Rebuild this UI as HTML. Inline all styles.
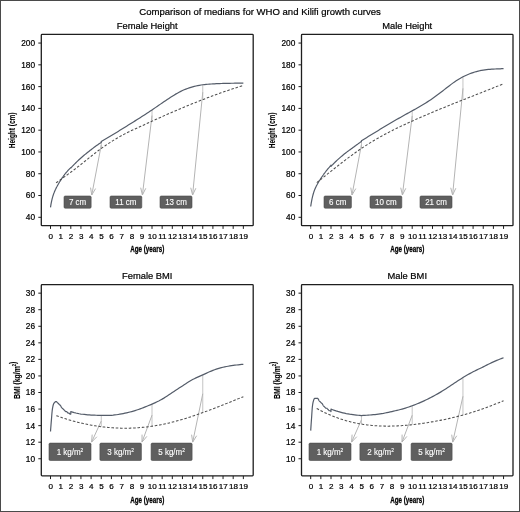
<!DOCTYPE html>
<html><head><meta charset="utf-8"><style>
html,body{margin:0;padding:0;background:#fff;}
#c{position:relative;width:520px;height:512px;overflow:hidden;background:#fff;box-sizing:border-box;border:1px solid #4a4a4a;}
svg{position:absolute;left:-1px;top:-1px;will-change:transform;}
text{font-family:"Liberation Sans",sans-serif;stroke:currentColor;stroke-width:0.22px;}
text.w{stroke:#fff;stroke-width:0.12px;}
text.b{stroke-width:0.3px;}
text.b2{stroke-width:0.12px;}
</style></head><body><div id="c">
<svg width="520" height="512" viewBox="0 0 520 512">
<text transform="translate(260.00,15.30) scale(0.966,1)" font-size="9.9" text-anchor="middle" fill="#000" color="#000" >Comparison of medians for WHO and Kilifi growth curves</text>
<text transform="translate(147.25,28.80) scale(0.965,1)" font-size="9.7" text-anchor="middle" fill="#000" color="#000" >Female Height</text>
<line x1="38.30" y1="217.30" x2="41.30" y2="217.30" stroke="#1e1e1e" stroke-width="1"/>
<text x="35.10" y="220.25" font-size="8.3" text-anchor="end" fill="#000" color="#000" >40</text>
<line x1="38.30" y1="195.52" x2="41.30" y2="195.52" stroke="#1e1e1e" stroke-width="1"/>
<text x="35.10" y="198.47" font-size="8.3" text-anchor="end" fill="#000" color="#000" >60</text>
<line x1="38.30" y1="173.74" x2="41.30" y2="173.74" stroke="#1e1e1e" stroke-width="1"/>
<text x="35.10" y="176.69" font-size="8.3" text-anchor="end" fill="#000" color="#000" >80</text>
<line x1="38.30" y1="151.96" x2="41.30" y2="151.96" stroke="#1e1e1e" stroke-width="1"/>
<text x="35.10" y="154.91" font-size="8.3" text-anchor="end" fill="#000" color="#000" >100</text>
<line x1="38.30" y1="130.18" x2="41.30" y2="130.18" stroke="#1e1e1e" stroke-width="1"/>
<text x="35.10" y="133.13" font-size="8.3" text-anchor="end" fill="#000" color="#000" >120</text>
<line x1="38.30" y1="108.40" x2="41.30" y2="108.40" stroke="#1e1e1e" stroke-width="1"/>
<text x="35.10" y="111.35" font-size="8.3" text-anchor="end" fill="#000" color="#000" >140</text>
<line x1="38.30" y1="86.62" x2="41.30" y2="86.62" stroke="#1e1e1e" stroke-width="1"/>
<text x="35.10" y="89.57" font-size="8.3" text-anchor="end" fill="#000" color="#000" >160</text>
<line x1="38.30" y1="64.84" x2="41.30" y2="64.84" stroke="#1e1e1e" stroke-width="1"/>
<text x="35.10" y="67.79" font-size="8.3" text-anchor="end" fill="#000" color="#000" >180</text>
<line x1="38.30" y1="43.06" x2="41.30" y2="43.06" stroke="#1e1e1e" stroke-width="1"/>
<text x="35.10" y="46.01" font-size="8.3" text-anchor="end" fill="#000" color="#000" >200</text>
<line x1="50.50" y1="225.70" x2="50.50" y2="228.90" stroke="#1e1e1e" stroke-width="1"/>
<text x="50.70" y="239.20" font-size="8.1" text-anchor="middle" fill="#000" color="#000" >0</text>
<line x1="60.65" y1="225.70" x2="60.65" y2="228.90" stroke="#1e1e1e" stroke-width="1"/>
<text x="60.85" y="239.20" font-size="8.1" text-anchor="middle" fill="#000" color="#000" >1</text>
<line x1="70.80" y1="225.70" x2="70.80" y2="228.90" stroke="#1e1e1e" stroke-width="1"/>
<text x="71.00" y="239.20" font-size="8.1" text-anchor="middle" fill="#000" color="#000" >2</text>
<line x1="80.95" y1="225.70" x2="80.95" y2="228.90" stroke="#1e1e1e" stroke-width="1"/>
<text x="81.15" y="239.20" font-size="8.1" text-anchor="middle" fill="#000" color="#000" >3</text>
<line x1="91.10" y1="225.70" x2="91.10" y2="228.90" stroke="#1e1e1e" stroke-width="1"/>
<text x="91.30" y="239.20" font-size="8.1" text-anchor="middle" fill="#000" color="#000" >4</text>
<line x1="101.25" y1="225.70" x2="101.25" y2="228.90" stroke="#1e1e1e" stroke-width="1"/>
<text x="101.45" y="239.20" font-size="8.1" text-anchor="middle" fill="#000" color="#000" >5</text>
<line x1="111.40" y1="225.70" x2="111.40" y2="228.90" stroke="#1e1e1e" stroke-width="1"/>
<text x="111.60" y="239.20" font-size="8.1" text-anchor="middle" fill="#000" color="#000" >6</text>
<line x1="121.55" y1="225.70" x2="121.55" y2="228.90" stroke="#1e1e1e" stroke-width="1"/>
<text x="121.75" y="239.20" font-size="8.1" text-anchor="middle" fill="#000" color="#000" >7</text>
<line x1="131.70" y1="225.70" x2="131.70" y2="228.90" stroke="#1e1e1e" stroke-width="1"/>
<text x="131.90" y="239.20" font-size="8.1" text-anchor="middle" fill="#000" color="#000" >8</text>
<line x1="141.85" y1="225.70" x2="141.85" y2="228.90" stroke="#1e1e1e" stroke-width="1"/>
<text x="142.05" y="239.20" font-size="8.1" text-anchor="middle" fill="#000" color="#000" >9</text>
<line x1="152.00" y1="225.70" x2="152.00" y2="228.90" stroke="#1e1e1e" stroke-width="1"/>
<text x="152.20" y="239.20" font-size="8.1" text-anchor="middle" fill="#000" color="#000" >10</text>
<line x1="162.15" y1="225.70" x2="162.15" y2="228.90" stroke="#1e1e1e" stroke-width="1"/>
<text x="162.35" y="239.20" font-size="8.1" text-anchor="middle" fill="#000" color="#000" >11</text>
<line x1="172.30" y1="225.70" x2="172.30" y2="228.90" stroke="#1e1e1e" stroke-width="1"/>
<text x="172.50" y="239.20" font-size="8.1" text-anchor="middle" fill="#000" color="#000" >12</text>
<line x1="182.45" y1="225.70" x2="182.45" y2="228.90" stroke="#1e1e1e" stroke-width="1"/>
<text x="182.65" y="239.20" font-size="8.1" text-anchor="middle" fill="#000" color="#000" >13</text>
<line x1="192.60" y1="225.70" x2="192.60" y2="228.90" stroke="#1e1e1e" stroke-width="1"/>
<text x="192.80" y="239.20" font-size="8.1" text-anchor="middle" fill="#000" color="#000" >14</text>
<line x1="202.75" y1="225.70" x2="202.75" y2="228.90" stroke="#1e1e1e" stroke-width="1"/>
<text x="202.95" y="239.20" font-size="8.1" text-anchor="middle" fill="#000" color="#000" >15</text>
<line x1="212.90" y1="225.70" x2="212.90" y2="228.90" stroke="#1e1e1e" stroke-width="1"/>
<text x="213.10" y="239.20" font-size="8.1" text-anchor="middle" fill="#000" color="#000" >16</text>
<line x1="223.05" y1="225.70" x2="223.05" y2="228.90" stroke="#1e1e1e" stroke-width="1"/>
<text x="223.25" y="239.20" font-size="8.1" text-anchor="middle" fill="#000" color="#000" >17</text>
<line x1="233.20" y1="225.70" x2="233.20" y2="228.90" stroke="#1e1e1e" stroke-width="1"/>
<text x="233.40" y="239.20" font-size="8.1" text-anchor="middle" fill="#000" color="#000" >18</text>
<line x1="243.35" y1="225.70" x2="243.35" y2="228.90" stroke="#1e1e1e" stroke-width="1"/>
<text x="243.55" y="239.20" font-size="8.1" text-anchor="middle" fill="#000" color="#000" >19</text>
<text transform="translate(147.25,252.30) scale(0.68,1)" font-size="9.2" font-weight="bold" text-anchor="middle" fill="#000" color="#000" class="b">Age (years)</text>
<text transform="translate(14.50,130.35) rotate(-90) scale(0.7,1)" font-size="9.3" font-weight="bold" text-anchor="middle" fill="#000" color="#000" class="b2">Height (cm)</text>
<line x1="101.25" y1="141.51" x2="101.25" y2="148.48" stroke="#c4c4c4" stroke-width="1"/>
<line x1="101.25" y1="144.99" x2="91.75" y2="195.00" stroke="#b4b4b4" stroke-width="1"/>
<path d="M90.55,187.60 L91.75,195.00 L95.59,188.55" fill="none" stroke="#b4b4b4" stroke-width="1"/>
<rect x="64.00" y="196.00" width="27.15" height="12.20" rx="1.2" fill="#5f5f5f" stroke="#4c4c4c" stroke-width="0.6"/>
<text class="w" transform="translate(77.58,205.20) scale(0.94,1)" font-size="8.5" text-anchor="middle" fill="#fff" color="#fff" >7 cm</text>
<line x1="152.00" y1="109.92" x2="152.00" y2="121.18" stroke="#c4c4c4" stroke-width="1"/>
<line x1="152.00" y1="115.55" x2="142.40" y2="195.00" stroke="#b4b4b4" stroke-width="1"/>
<path d="M140.70,187.70 L142.40,195.00 L145.79,188.31" fill="none" stroke="#b4b4b4" stroke-width="1"/>
<rect x="110.00" y="196.00" width="31.80" height="12.20" rx="1.2" fill="#5f5f5f" stroke="#4c4c4c" stroke-width="0.6"/>
<text class="w" transform="translate(125.90,205.20) scale(0.94,1)" font-size="8.5" text-anchor="middle" fill="#fff" color="#fff" >11 cm</text>
<line x1="202.75" y1="84.77" x2="202.75" y2="99.63" stroke="#c4c4c4" stroke-width="1"/>
<line x1="202.75" y1="92.20" x2="192.60" y2="195.00" stroke="#b4b4b4" stroke-width="1"/>
<path d="M190.74,187.73 L192.60,195.00 L195.85,188.24" fill="none" stroke="#b4b4b4" stroke-width="1"/>
<rect x="160.00" y="196.00" width="32.00" height="12.20" rx="1.2" fill="#5f5f5f" stroke="#4c4c4c" stroke-width="0.6"/>
<text class="w" transform="translate(176.00,205.20) scale(0.94,1)" font-size="8.5" text-anchor="middle" fill="#fff" color="#fff" >13 cm</text>
<path d="M50.50,207.39 L50.64,206.46 L50.78,205.57 L50.92,204.71 L51.06,203.89 L51.20,203.11 L51.35,202.38 L51.49,201.69 L51.63,201.03 L51.77,200.41 L51.91,199.81 L52.05,199.23 L52.19,198.68 L52.33,198.14 L52.47,197.63 L52.61,197.14 L52.76,196.66 L52.90,196.19 L53.04,195.74 L53.18,195.29 L53.32,194.86 L53.46,194.43 L53.60,194.02 L53.74,193.62 L53.88,193.23 L54.02,192.86 L54.17,192.51 L54.31,192.16 L54.45,191.82 L54.59,191.49 L54.73,191.16 L54.87,190.84 L55.01,190.53 L55.15,190.22 L55.29,189.91 L55.43,189.61 L55.58,189.31 L55.72,189.01 L55.86,188.72 L56.00,188.42 L56.14,188.13 L56.28,187.85 L56.42,187.57 L56.56,187.30 L56.70,187.05 L56.84,186.80 L56.98,186.55 L57.13,186.30 L57.27,186.05 L57.41,185.79 L57.55,185.54 L57.69,185.28 L57.83,185.03 L57.97,184.78 L58.11,184.52 L58.25,184.27 L58.39,184.01 L58.54,183.75 L58.68,183.50 L58.82,183.24 L58.96,183.00 L59.10,182.75 L59.24,182.51 L59.38,182.28 L59.52,182.04 L59.66,181.81 L59.80,181.58 L59.95,181.36 L60.09,181.14 L60.23,180.92 L60.37,180.71 L60.51,180.49 L60.65,180.27 L60.79,180.06 L60.93,179.84 L61.07,179.62 L61.21,179.40 L61.35,179.19 L61.50,178.97 L61.64,178.75 L61.78,178.53 L61.92,178.31 L62.06,178.09 L62.20,177.87 L62.34,177.66 L62.48,177.45 L62.62,177.25 L62.76,177.05 L62.91,176.86 L63.05,176.66 L63.19,176.46 L63.33,176.26 L63.47,176.06 L63.61,175.86 L63.75,175.66 L63.89,175.46 L64.03,175.26 L64.17,175.06 L64.32,174.86 L64.46,174.65 L64.60,174.45 L64.74,174.25 L64.88,174.07 L65.02,173.89 L65.16,173.73 L65.30,173.56 L65.44,173.41 L65.58,173.25 L65.72,173.09 L65.87,172.92 L66.01,172.76 L66.15,172.60 L66.29,172.43 L66.43,172.27 L66.57,172.11 L66.71,171.94 L66.85,171.78 L66.99,171.62 L67.13,171.45 L67.28,171.29 L67.42,171.13 L67.56,170.96 L67.70,170.80 L67.84,170.63 L67.98,170.46 L68.12,170.30 L68.26,170.15 L68.40,170.00 L68.54,169.85 L68.69,169.70 L68.83,169.56 L68.97,169.42 L69.11,169.28 L69.25,169.13 L69.39,168.98 L69.53,168.84 L69.67,168.69 L69.81,168.55 L69.95,168.40 L70.10,168.26 L70.24,168.11 L70.38,167.97 L70.52,167.82 L70.66,167.68 L70.80,167.53 L70.80,167.97 L71.65,167.07 L72.49,166.18 L73.34,165.30 L74.18,164.43 L75.03,163.58 L75.88,162.74 L76.72,161.91 L77.57,161.09 L78.41,160.28 L79.26,159.49 L80.10,158.71 L80.95,157.95 L81.80,157.21 L82.64,156.49 L83.49,155.78 L84.33,155.08 L85.18,154.39 L86.03,153.70 L86.87,153.02 L87.72,152.34 L88.56,151.66 L89.41,150.99 L90.25,150.33 L91.10,149.67 L91.95,149.02 L92.79,148.37 L93.64,147.73 L94.48,147.10 L95.33,146.47 L96.18,145.86 L97.02,145.26 L97.87,144.66 L98.71,144.08 L99.56,143.50 L100.40,142.94 L101.25,142.38 L101.25,141.51 L102.94,140.52 L104.63,139.52 L106.33,138.53 L108.02,137.53 L109.71,136.53 L111.40,135.52 L113.09,134.50 L114.78,133.47 L116.48,132.44 L118.17,131.40 L119.86,130.35 L121.55,129.31 L123.24,128.26 L124.93,127.21 L126.62,126.16 L128.32,125.11 L130.01,124.05 L131.70,122.99 L133.39,121.93 L135.08,120.87 L136.78,119.80 L138.47,118.73 L140.16,117.65 L141.85,116.57 L143.54,115.48 L145.23,114.39 L146.93,113.29 L148.62,112.18 L150.31,111.06 L152.00,109.92 L153.69,108.78 L155.38,107.62 L157.07,106.46 L158.77,105.29 L160.46,104.12 L162.15,102.96 L163.84,101.79 L165.53,100.64 L167.23,99.50 L168.92,98.38 L170.61,97.28 L172.30,96.20 L173.99,95.15 L175.68,94.14 L177.38,93.16 L179.07,92.24 L180.76,91.36 L182.45,90.54 L184.14,89.78 L185.83,89.09 L187.53,88.45 L189.22,87.86 L190.91,87.33 L192.60,86.84 L194.29,86.39 L195.98,85.99 L197.68,85.62 L199.37,85.30 L201.06,85.01 L202.75,84.77 L204.44,84.56 L206.13,84.38 L207.83,84.23 L209.52,84.11 L211.21,84.00 L212.90,83.90 L214.59,83.81 L216.28,83.72 L217.97,83.65 L219.67,83.58 L221.36,83.52 L223.05,83.46 L224.74,83.41 L226.43,83.37 L228.12,83.33 L229.82,83.30 L231.51,83.27 L233.20,83.24 L234.89,83.22 L236.58,83.20 L238.28,83.18 L239.97,83.17 L241.66,83.15 L243.35,83.14" fill="none" stroke="#545c69" stroke-width="1.2" stroke-linejoin="round"/>
<path d="M56.08,182.84 L57.26,182.01 L58.44,181.17 L59.62,180.33 L60.79,179.49 L61.97,178.64 L63.15,177.79 L64.33,176.94 L65.50,176.09 L66.68,175.23 L67.86,174.37 L69.04,173.50 L70.22,172.63 L71.39,171.75 L72.57,170.87 L73.75,169.98 L74.93,169.08 L76.10,168.18 L77.28,167.28 L78.46,166.36 L79.64,165.44 L80.82,164.51 L81.99,163.57 L83.17,162.63 L84.35,161.69 L85.53,160.74 L86.70,159.79 L87.88,158.84 L89.06,157.89 L90.24,156.95 L91.42,156.01 L92.59,155.07 L93.77,154.15 L94.95,153.23 L96.13,152.31 L97.30,151.41 L98.48,150.52 L99.66,149.64 L100.84,148.78 L102.02,147.93 L103.19,147.09 L104.37,146.27 L105.55,145.45 L106.73,144.65 L107.90,143.87 L109.08,143.09 L110.26,142.33 L111.44,141.58 L112.62,140.84 L113.79,140.11 L114.97,139.40 L116.15,138.69 L117.33,138.00 L118.51,137.32 L119.68,136.65 L120.86,135.99 L122.04,135.35 L123.22,134.71 L124.39,134.09 L125.57,133.48 L126.75,132.87 L127.93,132.28 L129.11,131.70 L130.28,131.13 L131.46,130.57 L132.64,130.02 L133.82,129.47 L134.99,128.94 L136.17,128.41 L137.35,127.88 L138.53,127.36 L139.71,126.83 L140.88,126.29 L142.06,125.75 L143.24,125.20 L144.42,124.66 L145.59,124.12 L146.77,123.57 L147.95,123.03 L149.13,122.49 L150.31,121.95 L151.48,121.42 L152.66,120.88 L153.84,120.34 L155.02,119.81 L156.19,119.28 L157.37,118.75 L158.55,118.22 L159.73,117.69 L160.91,117.17 L162.08,116.64 L163.26,116.12 L164.44,115.60 L165.62,115.08 L166.79,114.56 L167.97,114.04 L169.15,113.52 L170.33,113.01 L171.51,112.50 L172.68,111.99 L173.86,111.48 L175.04,110.97 L176.22,110.47 L177.39,109.97 L178.57,109.46 L179.75,108.97 L180.93,108.47 L182.11,107.97 L183.28,107.48 L184.46,106.99 L185.64,106.50 L186.82,106.01 L187.99,105.52 L189.17,105.04 L190.35,104.56 L191.53,104.08 L192.71,103.60 L193.88,103.13 L195.06,102.66 L196.24,102.19 L197.42,101.72 L198.59,101.25 L199.77,100.79 L200.95,100.33 L202.13,99.87 L203.31,99.41 L204.48,98.96 L205.66,98.50 L206.84,98.05 L208.02,97.61 L209.19,97.16 L210.37,96.72 L211.55,96.28 L212.73,95.84 L213.91,95.41 L215.08,94.98 L216.26,94.55 L217.44,94.12 L218.62,93.70 L219.79,93.28 L220.97,92.86 L222.15,92.44 L223.33,92.03 L224.51,91.62 L225.68,91.21 L226.86,90.81 L228.04,90.41 L229.22,90.01 L230.39,89.61 L231.57,89.22 L232.75,88.83 L233.93,88.44 L235.11,88.06 L236.28,87.68 L237.46,87.30 L238.64,86.93 L239.82,86.56 L240.99,86.19 L242.17,85.82 L243.35,85.46" fill="none" stroke="#505050" stroke-width="1.05" stroke-dasharray="2.6 1.75"/>
<rect x="41.30" y="34.40" width="211.90" height="191.30" fill="none" stroke="#1e1e1e" stroke-width="1.3" rx="0.8"/>
<text transform="translate(407.25,28.80) scale(0.965,1)" font-size="9.7" text-anchor="middle" fill="#000" color="#000" >Male Height</text>
<line x1="298.50" y1="217.30" x2="301.50" y2="217.30" stroke="#1e1e1e" stroke-width="1"/>
<text x="295.30" y="220.25" font-size="8.3" text-anchor="end" fill="#000" color="#000" >40</text>
<line x1="298.50" y1="195.52" x2="301.50" y2="195.52" stroke="#1e1e1e" stroke-width="1"/>
<text x="295.30" y="198.47" font-size="8.3" text-anchor="end" fill="#000" color="#000" >60</text>
<line x1="298.50" y1="173.74" x2="301.50" y2="173.74" stroke="#1e1e1e" stroke-width="1"/>
<text x="295.30" y="176.69" font-size="8.3" text-anchor="end" fill="#000" color="#000" >80</text>
<line x1="298.50" y1="151.96" x2="301.50" y2="151.96" stroke="#1e1e1e" stroke-width="1"/>
<text x="295.30" y="154.91" font-size="8.3" text-anchor="end" fill="#000" color="#000" >100</text>
<line x1="298.50" y1="130.18" x2="301.50" y2="130.18" stroke="#1e1e1e" stroke-width="1"/>
<text x="295.30" y="133.13" font-size="8.3" text-anchor="end" fill="#000" color="#000" >120</text>
<line x1="298.50" y1="108.40" x2="301.50" y2="108.40" stroke="#1e1e1e" stroke-width="1"/>
<text x="295.30" y="111.35" font-size="8.3" text-anchor="end" fill="#000" color="#000" >140</text>
<line x1="298.50" y1="86.62" x2="301.50" y2="86.62" stroke="#1e1e1e" stroke-width="1"/>
<text x="295.30" y="89.57" font-size="8.3" text-anchor="end" fill="#000" color="#000" >160</text>
<line x1="298.50" y1="64.84" x2="301.50" y2="64.84" stroke="#1e1e1e" stroke-width="1"/>
<text x="295.30" y="67.79" font-size="8.3" text-anchor="end" fill="#000" color="#000" >180</text>
<line x1="298.50" y1="43.06" x2="301.50" y2="43.06" stroke="#1e1e1e" stroke-width="1"/>
<text x="295.30" y="46.01" font-size="8.3" text-anchor="end" fill="#000" color="#000" >200</text>
<line x1="310.70" y1="225.70" x2="310.70" y2="228.90" stroke="#1e1e1e" stroke-width="1"/>
<text x="310.90" y="239.20" font-size="8.1" text-anchor="middle" fill="#000" color="#000" >0</text>
<line x1="320.85" y1="225.70" x2="320.85" y2="228.90" stroke="#1e1e1e" stroke-width="1"/>
<text x="321.05" y="239.20" font-size="8.1" text-anchor="middle" fill="#000" color="#000" >1</text>
<line x1="331.00" y1="225.70" x2="331.00" y2="228.90" stroke="#1e1e1e" stroke-width="1"/>
<text x="331.20" y="239.20" font-size="8.1" text-anchor="middle" fill="#000" color="#000" >2</text>
<line x1="341.15" y1="225.70" x2="341.15" y2="228.90" stroke="#1e1e1e" stroke-width="1"/>
<text x="341.35" y="239.20" font-size="8.1" text-anchor="middle" fill="#000" color="#000" >3</text>
<line x1="351.30" y1="225.70" x2="351.30" y2="228.90" stroke="#1e1e1e" stroke-width="1"/>
<text x="351.50" y="239.20" font-size="8.1" text-anchor="middle" fill="#000" color="#000" >4</text>
<line x1="361.45" y1="225.70" x2="361.45" y2="228.90" stroke="#1e1e1e" stroke-width="1"/>
<text x="361.65" y="239.20" font-size="8.1" text-anchor="middle" fill="#000" color="#000" >5</text>
<line x1="371.60" y1="225.70" x2="371.60" y2="228.90" stroke="#1e1e1e" stroke-width="1"/>
<text x="371.80" y="239.20" font-size="8.1" text-anchor="middle" fill="#000" color="#000" >6</text>
<line x1="381.75" y1="225.70" x2="381.75" y2="228.90" stroke="#1e1e1e" stroke-width="1"/>
<text x="381.95" y="239.20" font-size="8.1" text-anchor="middle" fill="#000" color="#000" >7</text>
<line x1="391.90" y1="225.70" x2="391.90" y2="228.90" stroke="#1e1e1e" stroke-width="1"/>
<text x="392.10" y="239.20" font-size="8.1" text-anchor="middle" fill="#000" color="#000" >8</text>
<line x1="402.05" y1="225.70" x2="402.05" y2="228.90" stroke="#1e1e1e" stroke-width="1"/>
<text x="402.25" y="239.20" font-size="8.1" text-anchor="middle" fill="#000" color="#000" >9</text>
<line x1="412.20" y1="225.70" x2="412.20" y2="228.90" stroke="#1e1e1e" stroke-width="1"/>
<text x="412.40" y="239.20" font-size="8.1" text-anchor="middle" fill="#000" color="#000" >10</text>
<line x1="422.35" y1="225.70" x2="422.35" y2="228.90" stroke="#1e1e1e" stroke-width="1"/>
<text x="422.55" y="239.20" font-size="8.1" text-anchor="middle" fill="#000" color="#000" >11</text>
<line x1="432.50" y1="225.70" x2="432.50" y2="228.90" stroke="#1e1e1e" stroke-width="1"/>
<text x="432.70" y="239.20" font-size="8.1" text-anchor="middle" fill="#000" color="#000" >12</text>
<line x1="442.65" y1="225.70" x2="442.65" y2="228.90" stroke="#1e1e1e" stroke-width="1"/>
<text x="442.85" y="239.20" font-size="8.1" text-anchor="middle" fill="#000" color="#000" >13</text>
<line x1="452.80" y1="225.70" x2="452.80" y2="228.90" stroke="#1e1e1e" stroke-width="1"/>
<text x="453.00" y="239.20" font-size="8.1" text-anchor="middle" fill="#000" color="#000" >14</text>
<line x1="462.95" y1="225.70" x2="462.95" y2="228.90" stroke="#1e1e1e" stroke-width="1"/>
<text x="463.15" y="239.20" font-size="8.1" text-anchor="middle" fill="#000" color="#000" >15</text>
<line x1="473.10" y1="225.70" x2="473.10" y2="228.90" stroke="#1e1e1e" stroke-width="1"/>
<text x="473.30" y="239.20" font-size="8.1" text-anchor="middle" fill="#000" color="#000" >16</text>
<line x1="483.25" y1="225.70" x2="483.25" y2="228.90" stroke="#1e1e1e" stroke-width="1"/>
<text x="483.45" y="239.20" font-size="8.1" text-anchor="middle" fill="#000" color="#000" >17</text>
<line x1="493.40" y1="225.70" x2="493.40" y2="228.90" stroke="#1e1e1e" stroke-width="1"/>
<text x="493.60" y="239.20" font-size="8.1" text-anchor="middle" fill="#000" color="#000" >18</text>
<line x1="503.55" y1="225.70" x2="503.55" y2="228.90" stroke="#1e1e1e" stroke-width="1"/>
<text x="503.75" y="239.20" font-size="8.1" text-anchor="middle" fill="#000" color="#000" >19</text>
<text transform="translate(407.25,252.30) scale(0.68,1)" font-size="9.2" font-weight="bold" text-anchor="middle" fill="#000" color="#000" class="b">Age (years)</text>
<text transform="translate(274.70,130.35) rotate(-90) scale(0.7,1)" font-size="9.3" font-weight="bold" text-anchor="middle" fill="#000" color="#000" class="b2">Height (cm)</text>
<line x1="361.45" y1="140.74" x2="361.45" y2="148.43" stroke="#c4c4c4" stroke-width="1"/>
<line x1="361.45" y1="144.59" x2="352.00" y2="195.00" stroke="#b4b4b4" stroke-width="1"/>
<path d="M350.78,187.60 L352.00,195.00 L355.82,188.55" fill="none" stroke="#b4b4b4" stroke-width="1"/>
<rect x="324.00" y="196.00" width="27.40" height="12.20" rx="1.2" fill="#5f5f5f" stroke="#4c4c4c" stroke-width="0.6"/>
<text class="w" transform="translate(337.70,205.20) scale(0.94,1)" font-size="8.5" text-anchor="middle" fill="#fff" color="#fff" >6 cm</text>
<line x1="412.20" y1="110.80" x2="412.20" y2="121.07" stroke="#c4c4c4" stroke-width="1"/>
<line x1="412.20" y1="115.93" x2="402.40" y2="195.00" stroke="#b4b4b4" stroke-width="1"/>
<path d="M400.72,187.69 L402.40,195.00 L405.81,188.32" fill="none" stroke="#b4b4b4" stroke-width="1"/>
<rect x="370.00" y="196.00" width="31.80" height="12.20" rx="1.2" fill="#5f5f5f" stroke="#4c4c4c" stroke-width="0.6"/>
<text class="w" transform="translate(385.90,205.20) scale(0.94,1)" font-size="8.5" text-anchor="middle" fill="#fff" color="#fff" >10 cm</text>
<line x1="462.95" y1="76.82" x2="462.95" y2="99.88" stroke="#c4c4c4" stroke-width="1"/>
<line x1="462.95" y1="88.35" x2="452.60" y2="195.00" stroke="#b4b4b4" stroke-width="1"/>
<path d="M450.73,187.74 L452.60,195.00 L455.83,188.23" fill="none" stroke="#b4b4b4" stroke-width="1"/>
<rect x="420.00" y="196.00" width="32.00" height="12.20" rx="1.2" fill="#5f5f5f" stroke="#4c4c4c" stroke-width="0.6"/>
<text class="w" transform="translate(436.00,205.20) scale(0.94,1)" font-size="8.5" text-anchor="middle" fill="#fff" color="#fff" >21 cm</text>
<path d="M310.70,206.52 L310.84,205.56 L310.98,204.64 L311.12,203.75 L311.26,202.89 L311.40,202.07 L311.55,201.29 L311.69,200.55 L311.83,199.84 L311.97,199.16 L312.11,198.50 L312.25,197.87 L312.39,197.26 L312.53,196.67 L312.67,196.10 L312.81,195.55 L312.96,195.02 L313.10,194.50 L313.24,194.00 L313.38,193.51 L313.52,193.03 L313.66,192.57 L313.80,192.12 L313.94,191.69 L314.08,191.27 L314.22,190.88 L314.37,190.50 L314.51,190.13 L314.65,189.78 L314.79,189.43 L314.93,189.09 L315.07,188.77 L315.21,188.45 L315.35,188.14 L315.49,187.84 L315.63,187.54 L315.77,187.24 L315.92,186.94 L316.06,186.65 L316.20,186.35 L316.34,186.06 L316.48,185.78 L316.62,185.50 L316.76,185.24 L316.90,184.98 L317.04,184.73 L317.18,184.48 L317.33,184.23 L317.47,183.98 L317.61,183.72 L317.75,183.46 L317.89,183.21 L318.03,182.95 L318.17,182.70 L318.31,182.45 L318.45,182.21 L318.59,181.97 L318.74,181.73 L318.88,181.50 L319.02,181.26 L319.16,181.04 L319.30,180.81 L319.44,180.59 L319.58,180.38 L319.72,180.16 L319.86,179.95 L320.00,179.73 L320.15,179.51 L320.29,179.29 L320.43,179.08 L320.57,178.86 L320.71,178.64 L320.85,178.42 L320.99,178.20 L321.13,177.98 L321.27,177.76 L321.41,177.54 L321.55,177.33 L321.70,177.12 L321.84,176.91 L321.98,176.71 L322.12,176.51 L322.26,176.31 L322.40,176.12 L322.54,175.92 L322.68,175.72 L322.82,175.52 L322.96,175.32 L323.11,175.12 L323.25,174.92 L323.39,174.72 L323.53,174.52 L323.67,174.32 L323.81,174.11 L323.95,173.91 L324.09,173.72 L324.23,173.52 L324.37,173.34 L324.52,173.16 L324.66,172.98 L324.80,172.80 L324.94,172.62 L325.08,172.43 L325.22,172.24 L325.36,172.03 L325.50,171.83 L325.64,171.62 L325.78,171.42 L325.93,171.24 L326.07,171.06 L326.21,170.90 L326.35,170.74 L326.49,170.58 L326.63,170.42 L326.77,170.26 L326.91,170.08 L327.05,169.90 L327.19,169.71 L327.33,169.52 L327.48,169.34 L327.62,169.17 L327.76,169.00 L327.90,168.83 L328.04,168.67 L328.18,168.51 L328.32,168.35 L328.46,168.19 L328.60,168.02 L328.74,167.86 L328.89,167.70 L329.03,167.53 L329.17,167.37 L329.31,167.21 L329.45,167.04 L329.59,166.88 L329.73,166.72 L329.87,166.55 L330.01,166.39 L330.15,166.23 L330.30,166.06 L330.44,165.90 L330.58,165.74 L330.72,165.57 L330.86,165.41 L331.00,165.25 L331.00,166.33 L331.85,165.44 L332.69,164.57 L333.54,163.71 L334.38,162.86 L335.23,162.03 L336.07,161.22 L336.92,160.42 L337.77,159.64 L338.61,158.87 L339.46,158.11 L340.30,157.37 L341.15,156.64 L342.00,155.92 L342.84,155.22 L343.69,154.52 L344.53,153.83 L345.38,153.16 L346.22,152.50 L347.07,151.86 L347.92,151.24 L348.76,150.63 L349.61,150.02 L350.45,149.41 L351.30,148.80 L352.15,148.18 L352.99,147.57 L353.84,146.95 L354.68,146.33 L355.53,145.72 L356.38,145.10 L357.22,144.48 L358.07,143.87 L358.91,143.25 L359.76,142.63 L360.60,142.01 L361.45,141.40 L361.45,140.74 L363.14,139.71 L364.83,138.67 L366.52,137.64 L368.22,136.61 L369.91,135.57 L371.60,134.54 L373.29,133.50 L374.98,132.47 L376.68,131.43 L378.37,130.40 L380.06,129.36 L381.75,128.33 L383.44,127.30 L385.13,126.27 L386.82,125.25 L388.52,124.23 L390.21,123.23 L391.90,122.23 L393.59,121.25 L395.28,120.28 L396.98,119.31 L398.67,118.36 L400.36,117.41 L402.05,116.46 L403.74,115.51 L405.43,114.57 L407.12,113.62 L408.82,112.68 L410.51,111.74 L412.20,110.80 L413.89,109.86 L415.58,108.91 L417.27,107.96 L418.97,107.00 L420.66,106.02 L422.35,105.02 L424.04,104.00 L425.73,102.95 L427.43,101.88 L429.12,100.78 L430.81,99.65 L432.50,98.49 L434.19,97.30 L435.88,96.09 L437.57,94.84 L439.27,93.58 L440.96,92.29 L442.65,90.98 L444.34,89.65 L446.03,88.31 L447.73,86.98 L449.42,85.67 L451.11,84.38 L452.80,83.14 L454.49,81.94 L456.18,80.80 L457.88,79.72 L459.57,78.69 L461.26,77.73 L462.95,76.82 L464.64,75.97 L466.33,75.19 L468.02,74.46 L469.72,73.78 L471.41,73.15 L473.10,72.57 L474.79,72.04 L476.48,71.55 L478.17,71.11 L479.87,70.71 L481.56,70.37 L483.25,70.07 L484.94,69.82 L486.63,69.61 L488.32,69.44 L490.02,69.30 L491.71,69.19 L493.40,69.09 L495.09,69.00 L496.78,68.92 L498.48,68.85 L500.17,68.78 L501.86,68.71 L503.55,68.65" fill="none" stroke="#545c69" stroke-width="1.2" stroke-linejoin="round"/>
<path d="M316.79,182.65 L317.96,181.70 L319.14,180.76 L320.31,179.81 L321.49,178.86 L322.66,177.91 L323.84,176.96 L325.01,176.02 L326.19,175.07 L327.36,174.13 L328.54,173.19 L329.71,172.25 L330.89,171.31 L332.06,170.37 L333.23,169.44 L334.41,168.51 L335.58,167.58 L336.76,166.66 L337.93,165.74 L339.11,164.82 L340.28,163.91 L341.46,163.00 L342.63,162.09 L343.81,161.19 L344.98,160.30 L346.15,159.41 L347.33,158.53 L348.50,157.65 L349.68,156.78 L350.85,155.91 L352.03,155.05 L353.20,154.20 L354.38,153.36 L355.55,152.52 L356.73,151.69 L357.90,150.87 L359.08,150.05 L360.25,149.25 L361.42,148.45 L362.60,147.66 L363.77,146.88 L364.95,146.11 L366.12,145.35 L367.30,144.60 L368.47,143.86 L369.65,143.13 L370.82,142.40 L372.00,141.69 L373.17,140.98 L374.34,140.28 L375.52,139.59 L376.69,138.91 L377.87,138.23 L379.04,137.56 L380.22,136.90 L381.39,136.25 L382.57,135.60 L383.74,134.96 L384.92,134.33 L386.09,133.70 L387.27,133.08 L388.44,132.47 L389.61,131.86 L390.79,131.26 L391.96,130.66 L393.14,130.07 L394.31,129.48 L395.49,128.90 L396.66,128.32 L397.84,127.75 L399.01,127.18 L400.19,126.62 L401.36,126.06 L402.54,125.51 L403.71,124.96 L404.88,124.41 L406.06,123.86 L407.23,123.32 L408.41,122.78 L409.58,122.25 L410.76,121.72 L411.93,121.19 L413.11,120.66 L414.28,120.13 L415.46,119.61 L416.63,119.09 L417.80,118.57 L418.98,118.06 L420.15,117.54 L421.33,117.03 L422.50,116.52 L423.68,116.01 L424.85,115.51 L426.03,115.00 L427.20,114.50 L428.38,114.00 L429.55,113.50 L430.73,113.01 L431.90,112.51 L433.07,112.02 L434.25,111.52 L435.42,111.03 L436.60,110.55 L437.77,110.06 L438.95,109.57 L440.12,109.09 L441.30,108.60 L442.47,108.12 L443.65,107.64 L444.82,107.16 L446.00,106.68 L447.17,106.21 L448.34,105.73 L449.52,105.26 L450.69,104.78 L451.87,104.31 L453.04,103.84 L454.22,103.37 L455.39,102.89 L456.57,102.43 L457.74,101.96 L458.92,101.49 L460.09,101.02 L461.26,100.55 L462.44,100.09 L463.61,99.62 L464.79,99.15 L465.96,98.69 L467.14,98.22 L468.31,97.76 L469.49,97.30 L470.66,96.83 L471.84,96.37 L473.01,95.90 L474.19,95.44 L475.36,94.98 L476.53,94.51 L477.71,94.05 L478.88,93.59 L480.06,93.12 L481.23,92.66 L482.41,92.19 L483.58,91.73 L484.76,91.26 L485.93,90.80 L487.11,90.33 L488.28,89.87 L489.45,89.40 L490.63,88.93 L491.80,88.47 L492.98,88.00 L494.15,87.53 L495.33,87.06 L496.50,86.59 L497.68,86.12 L498.85,85.65 L500.03,85.18 L501.20,84.70 L502.38,84.23 L503.55,83.75" fill="none" stroke="#505050" stroke-width="1.05" stroke-dasharray="2.6 1.75"/>
<rect x="301.50" y="34.40" width="211.50" height="191.30" fill="none" stroke="#1e1e1e" stroke-width="1.3" rx="0.8"/>
<text transform="translate(147.25,279.00) scale(0.965,1)" font-size="9.7" text-anchor="middle" fill="#000" color="#000" >Female BMI</text>
<line x1="38.30" y1="458.75" x2="41.30" y2="458.75" stroke="#1e1e1e" stroke-width="1"/>
<text x="35.10" y="461.70" font-size="8.3" text-anchor="end" fill="#000" color="#000" >10</text>
<line x1="38.30" y1="442.19" x2="41.30" y2="442.19" stroke="#1e1e1e" stroke-width="1"/>
<text x="35.10" y="445.14" font-size="8.3" text-anchor="end" fill="#000" color="#000" >12</text>
<line x1="38.30" y1="425.63" x2="41.30" y2="425.63" stroke="#1e1e1e" stroke-width="1"/>
<text x="35.10" y="428.58" font-size="8.3" text-anchor="end" fill="#000" color="#000" >14</text>
<line x1="38.30" y1="409.07" x2="41.30" y2="409.07" stroke="#1e1e1e" stroke-width="1"/>
<text x="35.10" y="412.02" font-size="8.3" text-anchor="end" fill="#000" color="#000" >16</text>
<line x1="38.30" y1="392.51" x2="41.30" y2="392.51" stroke="#1e1e1e" stroke-width="1"/>
<text x="35.10" y="395.46" font-size="8.3" text-anchor="end" fill="#000" color="#000" >18</text>
<line x1="38.30" y1="375.95" x2="41.30" y2="375.95" stroke="#1e1e1e" stroke-width="1"/>
<text x="35.10" y="378.90" font-size="8.3" text-anchor="end" fill="#000" color="#000" >20</text>
<line x1="38.30" y1="359.39" x2="41.30" y2="359.39" stroke="#1e1e1e" stroke-width="1"/>
<text x="35.10" y="362.34" font-size="8.3" text-anchor="end" fill="#000" color="#000" >22</text>
<line x1="38.30" y1="342.83" x2="41.30" y2="342.83" stroke="#1e1e1e" stroke-width="1"/>
<text x="35.10" y="345.78" font-size="8.3" text-anchor="end" fill="#000" color="#000" >24</text>
<line x1="38.30" y1="326.27" x2="41.30" y2="326.27" stroke="#1e1e1e" stroke-width="1"/>
<text x="35.10" y="329.22" font-size="8.3" text-anchor="end" fill="#000" color="#000" >26</text>
<line x1="38.30" y1="309.71" x2="41.30" y2="309.71" stroke="#1e1e1e" stroke-width="1"/>
<text x="35.10" y="312.66" font-size="8.3" text-anchor="end" fill="#000" color="#000" >28</text>
<line x1="38.30" y1="293.15" x2="41.30" y2="293.15" stroke="#1e1e1e" stroke-width="1"/>
<text x="35.10" y="296.10" font-size="8.3" text-anchor="end" fill="#000" color="#000" >30</text>
<line x1="50.50" y1="475.90" x2="50.50" y2="479.10" stroke="#1e1e1e" stroke-width="1"/>
<text x="50.70" y="489.40" font-size="8.1" text-anchor="middle" fill="#000" color="#000" >0</text>
<line x1="60.65" y1="475.90" x2="60.65" y2="479.10" stroke="#1e1e1e" stroke-width="1"/>
<text x="60.85" y="489.40" font-size="8.1" text-anchor="middle" fill="#000" color="#000" >1</text>
<line x1="70.80" y1="475.90" x2="70.80" y2="479.10" stroke="#1e1e1e" stroke-width="1"/>
<text x="71.00" y="489.40" font-size="8.1" text-anchor="middle" fill="#000" color="#000" >2</text>
<line x1="80.95" y1="475.90" x2="80.95" y2="479.10" stroke="#1e1e1e" stroke-width="1"/>
<text x="81.15" y="489.40" font-size="8.1" text-anchor="middle" fill="#000" color="#000" >3</text>
<line x1="91.10" y1="475.90" x2="91.10" y2="479.10" stroke="#1e1e1e" stroke-width="1"/>
<text x="91.30" y="489.40" font-size="8.1" text-anchor="middle" fill="#000" color="#000" >4</text>
<line x1="101.25" y1="475.90" x2="101.25" y2="479.10" stroke="#1e1e1e" stroke-width="1"/>
<text x="101.45" y="489.40" font-size="8.1" text-anchor="middle" fill="#000" color="#000" >5</text>
<line x1="111.40" y1="475.90" x2="111.40" y2="479.10" stroke="#1e1e1e" stroke-width="1"/>
<text x="111.60" y="489.40" font-size="8.1" text-anchor="middle" fill="#000" color="#000" >6</text>
<line x1="121.55" y1="475.90" x2="121.55" y2="479.10" stroke="#1e1e1e" stroke-width="1"/>
<text x="121.75" y="489.40" font-size="8.1" text-anchor="middle" fill="#000" color="#000" >7</text>
<line x1="131.70" y1="475.90" x2="131.70" y2="479.10" stroke="#1e1e1e" stroke-width="1"/>
<text x="131.90" y="489.40" font-size="8.1" text-anchor="middle" fill="#000" color="#000" >8</text>
<line x1="141.85" y1="475.90" x2="141.85" y2="479.10" stroke="#1e1e1e" stroke-width="1"/>
<text x="142.05" y="489.40" font-size="8.1" text-anchor="middle" fill="#000" color="#000" >9</text>
<line x1="152.00" y1="475.90" x2="152.00" y2="479.10" stroke="#1e1e1e" stroke-width="1"/>
<text x="152.20" y="489.40" font-size="8.1" text-anchor="middle" fill="#000" color="#000" >10</text>
<line x1="162.15" y1="475.90" x2="162.15" y2="479.10" stroke="#1e1e1e" stroke-width="1"/>
<text x="162.35" y="489.40" font-size="8.1" text-anchor="middle" fill="#000" color="#000" >11</text>
<line x1="172.30" y1="475.90" x2="172.30" y2="479.10" stroke="#1e1e1e" stroke-width="1"/>
<text x="172.50" y="489.40" font-size="8.1" text-anchor="middle" fill="#000" color="#000" >12</text>
<line x1="182.45" y1="475.90" x2="182.45" y2="479.10" stroke="#1e1e1e" stroke-width="1"/>
<text x="182.65" y="489.40" font-size="8.1" text-anchor="middle" fill="#000" color="#000" >13</text>
<line x1="192.60" y1="475.90" x2="192.60" y2="479.10" stroke="#1e1e1e" stroke-width="1"/>
<text x="192.80" y="489.40" font-size="8.1" text-anchor="middle" fill="#000" color="#000" >14</text>
<line x1="202.75" y1="475.90" x2="202.75" y2="479.10" stroke="#1e1e1e" stroke-width="1"/>
<text x="202.95" y="489.40" font-size="8.1" text-anchor="middle" fill="#000" color="#000" >15</text>
<line x1="212.90" y1="475.90" x2="212.90" y2="479.10" stroke="#1e1e1e" stroke-width="1"/>
<text x="213.10" y="489.40" font-size="8.1" text-anchor="middle" fill="#000" color="#000" >16</text>
<line x1="223.05" y1="475.90" x2="223.05" y2="479.10" stroke="#1e1e1e" stroke-width="1"/>
<text x="223.25" y="489.40" font-size="8.1" text-anchor="middle" fill="#000" color="#000" >17</text>
<line x1="233.20" y1="475.90" x2="233.20" y2="479.10" stroke="#1e1e1e" stroke-width="1"/>
<text x="233.40" y="489.40" font-size="8.1" text-anchor="middle" fill="#000" color="#000" >18</text>
<line x1="243.35" y1="475.90" x2="243.35" y2="479.10" stroke="#1e1e1e" stroke-width="1"/>
<text x="243.55" y="489.40" font-size="8.1" text-anchor="middle" fill="#000" color="#000" >19</text>
<text transform="translate(147.25,502.50) scale(0.68,1)" font-size="9.2" font-weight="bold" text-anchor="middle" fill="#000" color="#000" class="b">Age (years)</text>
<text transform="translate(19.90,380.35) rotate(-90) scale(0.739,1)" font-size="9.3" font-weight="bold" text-anchor="middle" fill="#000" color="#000" class="b2">BMI (kg/m<tspan font-size="5.5" dy="-3.5">2</tspan>)</text>
<line x1="101.25" y1="415.36" x2="101.25" y2="426.70" stroke="#c4c4c4" stroke-width="1"/>
<line x1="101.25" y1="421.03" x2="91.60" y2="442.10" stroke="#b4b4b4" stroke-width="1"/>
<path d="M92.20,434.62 L91.60,442.10 L96.87,436.76" fill="none" stroke="#b4b4b4" stroke-width="1"/>
<rect x="49.00" y="443.10" width="42.00" height="17.40" rx="1.2" fill="#5f5f5f" stroke="#4c4c4c" stroke-width="0.6"/>
<text class="w" transform="translate(70.00,454.90) scale(0.94,1)" font-size="8.5" text-anchor="middle" fill="#fff" color="#fff" >1 kg/m<tspan font-size="5.2" dy="-3.3">2</tspan></text>
<line x1="152.00" y1="404.10" x2="152.00" y2="426.22" stroke="#c4c4c4" stroke-width="1"/>
<line x1="152.00" y1="415.16" x2="142.00" y2="442.10" stroke="#b4b4b4" stroke-width="1"/>
<path d="M142.05,434.60 L142.00,442.10 L146.86,436.39" fill="none" stroke="#b4b4b4" stroke-width="1"/>
<rect x="99.90" y="443.10" width="41.50" height="17.40" rx="1.2" fill="#5f5f5f" stroke="#4c4c4c" stroke-width="0.6"/>
<text class="w" transform="translate(120.65,454.90) scale(0.94,1)" font-size="8.5" text-anchor="middle" fill="#fff" color="#fff" >3 kg/m<tspan font-size="5.2" dy="-3.3">2</tspan></text>
<line x1="202.75" y1="374.87" x2="202.75" y2="412.64" stroke="#c4c4c4" stroke-width="1"/>
<line x1="202.75" y1="393.76" x2="192.70" y2="442.10" stroke="#b4b4b4" stroke-width="1"/>
<path d="M191.62,434.68 L192.70,442.10 L196.65,435.72" fill="none" stroke="#b4b4b4" stroke-width="1"/>
<rect x="151.10" y="443.10" width="41.00" height="17.40" rx="1.2" fill="#5f5f5f" stroke="#4c4c4c" stroke-width="0.6"/>
<text class="w" transform="translate(171.60,454.90) scale(0.94,1)" font-size="8.5" text-anchor="middle" fill="#fff" color="#fff" >5 kg/m<tspan font-size="5.2" dy="-3.3">2</tspan></text>
<path d="M50.50,431.43 L50.64,429.57 L50.78,427.74 L50.92,425.94 L51.06,424.16 L51.20,422.40 L51.35,420.66 L51.49,418.88 L51.63,417.05 L51.77,415.23 L51.91,413.52 L52.05,411.99 L52.19,410.73 L52.33,409.67 L52.47,408.70 L52.61,407.83 L52.76,407.05 L52.90,406.36 L53.04,405.76 L53.18,405.22 L53.32,404.72 L53.46,404.26 L53.60,403.86 L53.74,403.53 L53.88,403.27 L54.02,403.09 L54.17,402.94 L54.31,402.81 L54.45,402.69 L54.59,402.57 L54.73,402.45 L54.87,402.29 L55.01,402.11 L55.15,401.93 L55.29,401.77 L55.43,401.66 L55.58,401.62 L55.72,401.62 L55.86,401.62 L56.00,401.62 L56.14,401.62 L56.28,401.62 L56.42,401.62 L56.56,401.66 L56.70,401.77 L56.84,401.93 L56.98,402.11 L57.13,402.29 L57.27,402.45 L57.41,402.58 L57.55,402.72 L57.69,402.86 L57.83,403.00 L57.97,403.14 L58.11,403.27 L58.25,403.41 L58.39,403.55 L58.54,403.69 L58.68,403.83 L58.82,403.96 L58.96,404.10 L59.10,404.24 L59.24,404.38 L59.38,404.52 L59.52,404.65 L59.66,404.79 L59.80,404.93 L59.95,405.06 L60.09,405.19 L60.23,405.31 L60.37,405.44 L60.51,405.59 L60.65,405.76 L60.79,405.98 L60.93,406.27 L61.07,406.59 L61.21,406.90 L61.35,407.19 L61.50,407.41 L61.64,407.58 L61.78,407.73 L61.92,407.86 L62.06,407.99 L62.20,408.11 L62.34,408.24 L62.48,408.38 L62.62,408.52 L62.76,408.66 L62.91,408.79 L63.05,408.93 L63.19,409.07 L63.33,409.21 L63.47,409.35 L63.61,409.48 L63.75,409.62 L63.89,409.76 L64.03,409.90 L64.17,410.04 L64.32,410.17 L64.46,410.31 L64.60,410.45 L64.74,410.59 L64.88,410.73 L65.02,410.88 L65.16,411.06 L65.30,411.24 L65.44,411.40 L65.58,411.51 L65.72,411.55 L65.87,411.55 L66.01,411.55 L66.15,411.55 L66.29,411.55 L66.43,411.55 L66.57,411.55 L66.71,411.60 L66.85,411.71 L66.99,411.86 L67.13,412.04 L67.28,412.22 L67.42,412.38 L67.56,412.54 L67.70,412.72 L67.84,412.90 L67.98,413.06 L68.12,413.17 L68.26,413.21 L68.40,413.21 L68.54,413.21 L68.69,413.21 L68.83,413.21 L68.97,413.21 L69.11,413.21 L69.25,413.27 L69.39,413.42 L69.53,413.62 L69.67,413.82 L69.81,413.98 L69.95,414.04 L70.10,414.04 L70.24,414.04 L70.38,414.04 L70.52,414.04 L70.66,414.04 L70.80,414.04 L70.80,411.55 L72.49,412.08 L74.18,412.57 L75.88,413.02 L77.57,413.42 L79.26,413.76 L80.95,414.04 L82.64,414.26 L84.33,414.47 L86.03,414.65 L87.72,414.81 L89.41,414.93 L91.10,415.03 L92.79,415.11 L94.48,415.19 L96.18,415.26 L97.87,415.31 L99.56,415.35 L101.25,415.36 L101.25,415.36 L102.94,415.40 L104.63,415.43 L106.33,415.44 L108.02,415.42 L109.71,415.37 L111.40,415.28 L113.09,415.14 L114.78,414.95 L116.48,414.73 L118.17,414.47 L119.86,414.18 L121.55,413.87 L123.24,413.54 L124.93,413.19 L126.62,412.82 L128.32,412.43 L130.01,412.00 L131.70,411.55 L133.39,411.07 L135.08,410.56 L136.78,410.02 L138.47,409.45 L140.16,408.86 L141.85,408.24 L143.54,407.60 L145.23,406.93 L146.93,406.25 L148.62,405.55 L150.31,404.83 L152.00,404.10 L153.69,403.36 L155.38,402.60 L157.07,401.80 L158.77,400.97 L160.46,400.08 L162.15,399.13 L163.84,398.12 L165.53,397.05 L167.23,395.94 L168.92,394.80 L170.61,393.65 L172.30,392.51 L173.99,391.38 L175.68,390.27 L177.38,389.17 L179.07,388.08 L180.76,386.98 L182.45,385.89 L184.14,384.78 L185.83,383.68 L187.53,382.60 L189.22,381.55 L190.91,380.54 L192.60,379.59 L194.29,378.71 L195.98,377.89 L197.68,377.12 L199.37,376.36 L201.06,375.62 L202.75,374.87 L204.44,374.11 L206.13,373.34 L207.83,372.57 L209.52,371.82 L211.21,371.09 L212.90,370.40 L214.59,369.76 L216.28,369.17 L217.97,368.63 L219.67,368.13 L221.36,367.67 L223.05,367.26 L224.74,366.88 L226.43,366.53 L228.12,366.22 L229.82,365.93 L231.51,365.67 L233.20,365.43 L234.89,365.21 L236.58,365.01 L238.28,364.81 L239.97,364.63 L241.66,364.45 L243.35,364.28" fill="none" stroke="#545c69" stroke-width="1.2" stroke-linejoin="round"/>
<path d="M56.29,415.68 L57.46,416.10 L58.64,416.52 L59.82,416.93 L60.99,417.33 L62.17,417.73 L63.34,418.11 L64.52,418.49 L65.70,418.87 L66.87,419.23 L68.05,419.59 L69.23,419.94 L70.40,420.29 L71.58,420.62 L72.76,420.95 L73.93,421.28 L75.11,421.59 L76.29,421.90 L77.46,422.20 L78.64,422.49 L79.82,422.78 L80.99,423.06 L82.17,423.33 L83.35,423.59 L84.52,423.85 L85.70,424.10 L86.87,424.34 L88.05,424.57 L89.23,424.80 L90.40,425.02 L91.58,425.23 L92.76,425.44 L93.93,425.64 L95.11,425.83 L96.29,426.01 L97.46,426.19 L98.64,426.35 L99.82,426.51 L100.99,426.67 L102.17,426.82 L103.35,426.95 L104.52,427.09 L105.70,427.21 L106.88,427.33 L108.05,427.44 L109.23,427.54 L110.40,427.63 L111.58,427.72 L112.76,427.80 L113.93,427.87 L115.11,427.94 L116.29,428.00 L117.46,428.05 L118.64,428.09 L119.82,428.13 L120.99,428.16 L122.17,428.18 L123.35,428.19 L124.52,428.20 L125.70,428.19 L126.88,428.19 L128.05,428.17 L129.23,428.15 L130.41,428.11 L131.58,428.08 L132.76,428.03 L133.93,427.98 L135.11,427.92 L136.29,427.85 L137.46,427.77 L138.64,427.69 L139.82,427.60 L140.99,427.50 L142.17,427.39 L143.35,427.28 L144.52,427.16 L145.70,427.03 L146.88,426.90 L148.05,426.75 L149.23,426.60 L150.41,426.45 L151.58,426.28 L152.76,426.11 L153.94,425.93 L155.11,425.74 L156.29,425.54 L157.47,425.34 L158.64,425.13 L159.82,424.91 L160.99,424.69 L162.17,424.45 L163.35,424.21 L164.52,423.97 L165.70,423.71 L166.88,423.45 L168.05,423.18 L169.23,422.90 L170.41,422.62 L171.58,422.33 L172.76,422.03 L173.94,421.73 L175.11,421.42 L176.29,421.11 L177.47,420.79 L178.64,420.46 L179.82,420.13 L181.00,419.79 L182.17,419.45 L183.35,419.10 L184.52,418.74 L185.70,418.38 L186.88,418.02 L188.05,417.65 L189.23,417.27 L190.41,416.89 L191.58,416.51 L192.76,416.12 L193.94,415.72 L195.11,415.33 L196.29,414.92 L197.47,414.52 L198.64,414.11 L199.82,413.69 L201.00,413.27 L202.17,412.85 L203.35,412.43 L204.53,412.00 L205.70,411.57 L206.88,411.13 L208.05,410.69 L209.23,410.25 L210.41,409.81 L211.58,409.36 L212.76,408.91 L213.94,408.46 L215.11,408.01 L216.29,407.55 L217.47,407.10 L218.64,406.64 L219.82,406.17 L221.00,405.71 L222.17,405.24 L223.35,404.78 L224.53,404.31 L225.70,403.84 L226.88,403.37 L228.06,402.90 L229.23,402.42 L230.41,401.95 L231.58,401.47 L232.76,401.00 L233.94,400.52 L235.11,400.05 L236.29,399.57 L237.47,399.09 L238.64,398.62 L239.82,398.14 L241.00,397.67 L242.17,397.19 L243.35,396.71" fill="none" stroke="#505050" stroke-width="1.05" stroke-dasharray="2.6 1.75"/>
<rect x="41.30" y="284.60" width="211.90" height="191.30" fill="none" stroke="#1e1e1e" stroke-width="1.3" rx="0.8"/>
<text transform="translate(407.25,279.00) scale(0.965,1)" font-size="9.7" text-anchor="middle" fill="#000" color="#000" >Male BMI</text>
<line x1="298.50" y1="458.75" x2="301.50" y2="458.75" stroke="#1e1e1e" stroke-width="1"/>
<text x="295.30" y="461.70" font-size="8.3" text-anchor="end" fill="#000" color="#000" >10</text>
<line x1="298.50" y1="442.19" x2="301.50" y2="442.19" stroke="#1e1e1e" stroke-width="1"/>
<text x="295.30" y="445.14" font-size="8.3" text-anchor="end" fill="#000" color="#000" >12</text>
<line x1="298.50" y1="425.63" x2="301.50" y2="425.63" stroke="#1e1e1e" stroke-width="1"/>
<text x="295.30" y="428.58" font-size="8.3" text-anchor="end" fill="#000" color="#000" >14</text>
<line x1="298.50" y1="409.07" x2="301.50" y2="409.07" stroke="#1e1e1e" stroke-width="1"/>
<text x="295.30" y="412.02" font-size="8.3" text-anchor="end" fill="#000" color="#000" >16</text>
<line x1="298.50" y1="392.51" x2="301.50" y2="392.51" stroke="#1e1e1e" stroke-width="1"/>
<text x="295.30" y="395.46" font-size="8.3" text-anchor="end" fill="#000" color="#000" >18</text>
<line x1="298.50" y1="375.95" x2="301.50" y2="375.95" stroke="#1e1e1e" stroke-width="1"/>
<text x="295.30" y="378.90" font-size="8.3" text-anchor="end" fill="#000" color="#000" >20</text>
<line x1="298.50" y1="359.39" x2="301.50" y2="359.39" stroke="#1e1e1e" stroke-width="1"/>
<text x="295.30" y="362.34" font-size="8.3" text-anchor="end" fill="#000" color="#000" >22</text>
<line x1="298.50" y1="342.83" x2="301.50" y2="342.83" stroke="#1e1e1e" stroke-width="1"/>
<text x="295.30" y="345.78" font-size="8.3" text-anchor="end" fill="#000" color="#000" >24</text>
<line x1="298.50" y1="326.27" x2="301.50" y2="326.27" stroke="#1e1e1e" stroke-width="1"/>
<text x="295.30" y="329.22" font-size="8.3" text-anchor="end" fill="#000" color="#000" >26</text>
<line x1="298.50" y1="309.71" x2="301.50" y2="309.71" stroke="#1e1e1e" stroke-width="1"/>
<text x="295.30" y="312.66" font-size="8.3" text-anchor="end" fill="#000" color="#000" >28</text>
<line x1="298.50" y1="293.15" x2="301.50" y2="293.15" stroke="#1e1e1e" stroke-width="1"/>
<text x="295.30" y="296.10" font-size="8.3" text-anchor="end" fill="#000" color="#000" >30</text>
<line x1="310.70" y1="475.90" x2="310.70" y2="479.10" stroke="#1e1e1e" stroke-width="1"/>
<text x="310.90" y="489.40" font-size="8.1" text-anchor="middle" fill="#000" color="#000" >0</text>
<line x1="320.85" y1="475.90" x2="320.85" y2="479.10" stroke="#1e1e1e" stroke-width="1"/>
<text x="321.05" y="489.40" font-size="8.1" text-anchor="middle" fill="#000" color="#000" >1</text>
<line x1="331.00" y1="475.90" x2="331.00" y2="479.10" stroke="#1e1e1e" stroke-width="1"/>
<text x="331.20" y="489.40" font-size="8.1" text-anchor="middle" fill="#000" color="#000" >2</text>
<line x1="341.15" y1="475.90" x2="341.15" y2="479.10" stroke="#1e1e1e" stroke-width="1"/>
<text x="341.35" y="489.40" font-size="8.1" text-anchor="middle" fill="#000" color="#000" >3</text>
<line x1="351.30" y1="475.90" x2="351.30" y2="479.10" stroke="#1e1e1e" stroke-width="1"/>
<text x="351.50" y="489.40" font-size="8.1" text-anchor="middle" fill="#000" color="#000" >4</text>
<line x1="361.45" y1="475.90" x2="361.45" y2="479.10" stroke="#1e1e1e" stroke-width="1"/>
<text x="361.65" y="489.40" font-size="8.1" text-anchor="middle" fill="#000" color="#000" >5</text>
<line x1="371.60" y1="475.90" x2="371.60" y2="479.10" stroke="#1e1e1e" stroke-width="1"/>
<text x="371.80" y="489.40" font-size="8.1" text-anchor="middle" fill="#000" color="#000" >6</text>
<line x1="381.75" y1="475.90" x2="381.75" y2="479.10" stroke="#1e1e1e" stroke-width="1"/>
<text x="381.95" y="489.40" font-size="8.1" text-anchor="middle" fill="#000" color="#000" >7</text>
<line x1="391.90" y1="475.90" x2="391.90" y2="479.10" stroke="#1e1e1e" stroke-width="1"/>
<text x="392.10" y="489.40" font-size="8.1" text-anchor="middle" fill="#000" color="#000" >8</text>
<line x1="402.05" y1="475.90" x2="402.05" y2="479.10" stroke="#1e1e1e" stroke-width="1"/>
<text x="402.25" y="489.40" font-size="8.1" text-anchor="middle" fill="#000" color="#000" >9</text>
<line x1="412.20" y1="475.90" x2="412.20" y2="479.10" stroke="#1e1e1e" stroke-width="1"/>
<text x="412.40" y="489.40" font-size="8.1" text-anchor="middle" fill="#000" color="#000" >10</text>
<line x1="422.35" y1="475.90" x2="422.35" y2="479.10" stroke="#1e1e1e" stroke-width="1"/>
<text x="422.55" y="489.40" font-size="8.1" text-anchor="middle" fill="#000" color="#000" >11</text>
<line x1="432.50" y1="475.90" x2="432.50" y2="479.10" stroke="#1e1e1e" stroke-width="1"/>
<text x="432.70" y="489.40" font-size="8.1" text-anchor="middle" fill="#000" color="#000" >12</text>
<line x1="442.65" y1="475.90" x2="442.65" y2="479.10" stroke="#1e1e1e" stroke-width="1"/>
<text x="442.85" y="489.40" font-size="8.1" text-anchor="middle" fill="#000" color="#000" >13</text>
<line x1="452.80" y1="475.90" x2="452.80" y2="479.10" stroke="#1e1e1e" stroke-width="1"/>
<text x="453.00" y="489.40" font-size="8.1" text-anchor="middle" fill="#000" color="#000" >14</text>
<line x1="462.95" y1="475.90" x2="462.95" y2="479.10" stroke="#1e1e1e" stroke-width="1"/>
<text x="463.15" y="489.40" font-size="8.1" text-anchor="middle" fill="#000" color="#000" >15</text>
<line x1="473.10" y1="475.90" x2="473.10" y2="479.10" stroke="#1e1e1e" stroke-width="1"/>
<text x="473.30" y="489.40" font-size="8.1" text-anchor="middle" fill="#000" color="#000" >16</text>
<line x1="483.25" y1="475.90" x2="483.25" y2="479.10" stroke="#1e1e1e" stroke-width="1"/>
<text x="483.45" y="489.40" font-size="8.1" text-anchor="middle" fill="#000" color="#000" >17</text>
<line x1="493.40" y1="475.90" x2="493.40" y2="479.10" stroke="#1e1e1e" stroke-width="1"/>
<text x="493.60" y="489.40" font-size="8.1" text-anchor="middle" fill="#000" color="#000" >18</text>
<line x1="503.55" y1="475.90" x2="503.55" y2="479.10" stroke="#1e1e1e" stroke-width="1"/>
<text x="503.75" y="489.40" font-size="8.1" text-anchor="middle" fill="#000" color="#000" >19</text>
<text transform="translate(407.25,502.50) scale(0.68,1)" font-size="9.2" font-weight="bold" text-anchor="middle" fill="#000" color="#000" class="b">Age (years)</text>
<text transform="translate(279.90,380.35) rotate(-90) scale(0.739,1)" font-size="9.3" font-weight="bold" text-anchor="middle" fill="#000" color="#000" class="b2">BMI (kg/m<tspan font-size="5.5" dy="-3.5">2</tspan>)</text>
<line x1="361.45" y1="415.53" x2="361.45" y2="424.09" stroke="#c4c4c4" stroke-width="1"/>
<line x1="361.45" y1="419.81" x2="351.60" y2="442.10" stroke="#b4b4b4" stroke-width="1"/>
<path d="M352.10,434.62 L351.60,442.10 L356.79,436.69" fill="none" stroke="#b4b4b4" stroke-width="1"/>
<rect x="309.00" y="443.10" width="42.00" height="17.40" rx="1.2" fill="#5f5f5f" stroke="#4c4c4c" stroke-width="0.6"/>
<text class="w" transform="translate(330.00,454.90) scale(0.94,1)" font-size="8.5" text-anchor="middle" fill="#fff" color="#fff" >1 kg/m<tspan font-size="5.2" dy="-3.3">2</tspan></text>
<line x1="412.20" y1="405.76" x2="412.20" y2="424.70" stroke="#c4c4c4" stroke-width="1"/>
<line x1="412.20" y1="415.23" x2="402.00" y2="442.10" stroke="#b4b4b4" stroke-width="1"/>
<path d="M402.10,434.60 L402.00,442.10 L406.90,436.42" fill="none" stroke="#b4b4b4" stroke-width="1"/>
<rect x="359.90" y="443.10" width="41.50" height="17.40" rx="1.2" fill="#5f5f5f" stroke="#4c4c4c" stroke-width="0.6"/>
<text class="w" transform="translate(380.65,454.90) scale(0.94,1)" font-size="8.5" text-anchor="middle" fill="#fff" color="#fff" >2 kg/m<tspan font-size="5.2" dy="-3.3">2</tspan></text>
<line x1="462.95" y1="377.61" x2="462.95" y2="415.00" stroke="#c4c4c4" stroke-width="1"/>
<line x1="462.95" y1="396.30" x2="452.70" y2="442.10" stroke="#b4b4b4" stroke-width="1"/>
<path d="M451.74,434.66 L452.70,442.10 L456.74,435.78" fill="none" stroke="#b4b4b4" stroke-width="1"/>
<rect x="411.10" y="443.10" width="41.00" height="17.40" rx="1.2" fill="#5f5f5f" stroke="#4c4c4c" stroke-width="0.6"/>
<text class="w" transform="translate(431.60,454.90) scale(0.94,1)" font-size="8.5" text-anchor="middle" fill="#fff" color="#fff" >5 kg/m<tspan font-size="5.2" dy="-3.3">2</tspan></text>
<path d="M310.70,430.60 L310.84,428.47 L310.98,426.36 L311.12,424.28 L311.26,422.22 L311.40,420.19 L311.55,418.18 L311.69,416.09 L311.83,413.91 L311.97,411.75 L312.11,409.73 L312.25,407.97 L312.39,406.59 L312.53,405.49 L312.67,404.51 L312.81,403.65 L312.96,402.88 L313.10,402.21 L313.24,401.62 L313.38,401.08 L313.52,400.58 L313.66,400.12 L313.80,399.72 L313.94,399.39 L314.08,399.13 L314.22,398.93 L314.37,398.74 L314.51,398.56 L314.65,398.43 L314.79,398.34 L314.93,398.31 L315.07,398.31 L315.21,398.31 L315.35,398.31 L315.49,398.31 L315.63,398.31 L315.77,398.31 L315.92,398.31 L316.06,398.31 L316.20,398.31 L316.34,398.31 L316.48,398.31 L316.62,398.31 L316.76,398.31 L316.90,398.31 L317.04,398.31 L317.18,398.31 L317.33,398.31 L317.47,398.31 L317.61,398.34 L317.75,398.44 L317.89,398.58 L318.03,398.76 L318.17,398.94 L318.31,399.13 L318.45,399.36 L318.59,399.65 L318.74,399.96 L318.88,400.28 L319.02,400.57 L319.16,400.79 L319.30,400.96 L319.44,401.11 L319.58,401.24 L319.72,401.36 L319.86,401.49 L320.00,401.62 L320.15,401.76 L320.29,401.89 L320.43,402.03 L320.57,402.17 L320.71,402.31 L320.85,402.45 L320.99,402.58 L321.13,402.72 L321.27,402.86 L321.41,403.00 L321.55,403.14 L321.70,403.27 L321.84,403.41 L321.98,403.53 L322.12,403.65 L322.26,403.79 L322.40,403.93 L322.54,404.10 L322.68,404.33 L322.82,404.61 L322.96,404.93 L323.11,405.25 L323.25,405.53 L323.39,405.76 L323.53,405.93 L323.67,406.07 L323.81,406.21 L323.95,406.33 L324.09,406.45 L324.23,406.59 L324.37,406.72 L324.52,406.86 L324.66,407.00 L324.80,407.14 L324.94,407.28 L325.08,407.41 L325.22,407.57 L325.36,407.75 L325.50,407.93 L325.64,408.09 L325.78,408.20 L325.93,408.24 L326.07,408.24 L326.21,408.24 L326.35,408.24 L326.49,408.24 L326.63,408.24 L326.77,408.24 L326.91,408.28 L327.05,408.40 L327.19,408.55 L327.33,408.73 L327.48,408.91 L327.62,409.07 L327.76,409.21 L327.90,409.35 L328.04,409.48 L328.18,409.62 L328.32,409.76 L328.46,409.90 L328.60,410.06 L328.74,410.24 L328.89,410.42 L329.03,410.57 L329.17,410.68 L329.31,410.73 L329.45,410.73 L329.59,410.73 L329.73,410.73 L329.87,410.73 L330.01,410.73 L330.15,410.73 L330.30,410.76 L330.44,410.85 L330.58,410.98 L330.72,411.16 L330.86,411.35 L331.00,411.55 L331.00,409.07 L332.69,409.71 L334.38,410.32 L336.07,410.90 L337.77,411.44 L339.46,411.93 L341.15,412.38 L342.84,412.80 L344.53,413.19 L346.22,413.56 L347.92,413.89 L349.61,414.19 L351.30,414.45 L352.99,414.68 L354.68,414.90 L356.38,415.09 L358.07,415.27 L359.76,415.41 L361.45,415.53 L361.45,415.53 L363.14,415.43 L364.83,415.34 L366.52,415.23 L368.22,415.12 L369.91,415.00 L371.60,414.87 L373.29,414.71 L374.98,414.54 L376.68,414.35 L378.37,414.13 L380.06,413.89 L381.75,413.62 L383.44,413.33 L385.13,413.00 L386.82,412.66 L388.52,412.30 L390.21,411.93 L391.90,411.55 L393.59,411.17 L395.28,410.78 L396.98,410.38 L398.67,409.97 L400.36,409.53 L402.05,409.07 L403.74,408.58 L405.43,408.07 L407.12,407.53 L408.82,406.96 L410.51,406.37 L412.20,405.76 L413.89,405.12 L415.58,404.47 L417.27,403.79 L418.97,403.09 L420.66,402.37 L422.35,401.62 L424.04,400.85 L425.73,400.05 L427.43,399.24 L429.12,398.40 L430.81,397.53 L432.50,396.65 L434.19,395.74 L435.88,394.82 L437.57,393.87 L439.27,392.89 L440.96,391.89 L442.65,390.85 L444.34,389.79 L446.03,388.71 L447.73,387.61 L449.42,386.49 L451.11,385.36 L452.80,384.23 L454.49,383.10 L456.18,381.97 L457.88,380.86 L459.57,379.75 L461.26,378.67 L462.95,377.61 L464.64,376.57 L466.33,375.56 L468.02,374.58 L469.72,373.62 L471.41,372.70 L473.10,371.81 L474.79,370.95 L476.48,370.11 L478.17,369.29 L479.87,368.48 L481.56,367.67 L483.25,366.84 L484.94,366.00 L486.63,365.16 L488.32,364.31 L490.02,363.48 L491.71,362.66 L493.40,361.87 L495.09,361.12 L496.78,360.41 L498.48,359.72 L500.17,359.04 L501.86,358.39 L503.55,357.73" fill="none" stroke="#545c69" stroke-width="1.2" stroke-linejoin="round"/>
<path d="M316.69,408.42 L317.86,409.07 L319.04,409.70 L320.21,410.32 L321.39,410.93 L322.56,411.52 L323.74,412.10 L324.92,412.67 L326.09,413.22 L327.27,413.76 L328.44,414.28 L329.62,414.80 L330.79,415.30 L331.97,415.78 L333.14,416.26 L334.32,416.72 L335.49,417.16 L336.67,417.60 L337.84,418.02 L339.02,418.43 L340.19,418.83 L341.37,419.22 L342.54,419.60 L343.72,419.96 L344.89,420.31 L346.07,420.65 L347.24,420.98 L348.42,421.30 L349.59,421.60 L350.77,421.90 L351.95,422.18 L353.12,422.45 L354.30,422.72 L355.47,422.97 L356.65,423.21 L357.82,423.44 L359.00,423.66 L360.17,423.87 L361.35,424.07 L362.52,424.26 L363.70,424.44 L364.87,424.61 L366.05,424.77 L367.22,424.92 L368.40,425.06 L369.57,425.20 L370.75,425.32 L371.92,425.44 L373.10,425.54 L374.27,425.64 L375.45,425.72 L376.63,425.80 L377.80,425.87 L378.98,425.94 L380.15,425.99 L381.33,426.04 L382.50,426.07 L383.68,426.10 L384.85,426.13 L386.03,426.14 L387.20,426.15 L388.38,426.15 L389.55,426.14 L390.73,426.12 L391.90,426.10 L393.08,426.07 L394.25,426.03 L395.43,425.99 L396.60,425.94 L397.78,425.89 L398.95,425.82 L400.13,425.75 L401.31,425.68 L402.48,425.60 L403.66,425.51 L404.83,425.41 L406.01,425.32 L407.18,425.21 L408.36,425.10 L409.53,424.98 L410.71,424.86 L411.88,424.74 L413.06,424.60 L414.23,424.47 L415.41,424.33 L416.58,424.18 L417.76,424.03 L418.93,423.87 L420.11,423.71 L421.28,423.55 L422.46,423.38 L423.63,423.21 L424.81,423.03 L425.98,422.85 L427.16,422.67 L428.34,422.48 L429.51,422.29 L430.69,422.09 L431.86,421.89 L433.04,421.69 L434.21,421.48 L435.39,421.27 L436.56,421.05 L437.74,420.83 L438.91,420.60 L440.09,420.37 L441.26,420.14 L442.44,419.90 L443.61,419.66 L444.79,419.41 L445.96,419.16 L447.14,418.90 L448.31,418.64 L449.49,418.37 L450.66,418.10 L451.84,417.83 L453.02,417.55 L454.19,417.27 L455.37,416.98 L456.54,416.68 L457.72,416.38 L458.89,416.08 L460.07,415.77 L461.24,415.46 L462.42,415.14 L463.59,414.82 L464.77,414.49 L465.94,414.16 L467.12,413.82 L468.29,413.48 L469.47,413.13 L470.64,412.77 L471.82,412.42 L472.99,412.05 L474.17,411.68 L475.34,411.31 L476.52,410.93 L477.69,410.54 L478.87,410.15 L480.05,409.76 L481.22,409.35 L482.40,408.95 L483.57,408.54 L484.75,408.12 L485.92,407.69 L487.10,407.26 L488.27,406.83 L489.45,406.39 L490.62,405.94 L491.80,405.49 L492.97,405.03 L494.15,404.57 L495.32,404.10 L496.50,403.63 L497.67,403.14 L498.85,402.66 L500.02,402.16 L501.20,401.67 L502.37,401.16 L503.55,400.65" fill="none" stroke="#505050" stroke-width="1.05" stroke-dasharray="2.6 1.75"/>
<rect x="301.50" y="284.60" width="211.50" height="191.30" fill="none" stroke="#1e1e1e" stroke-width="1.3" rx="0.8"/>
</svg></div></body></html>
